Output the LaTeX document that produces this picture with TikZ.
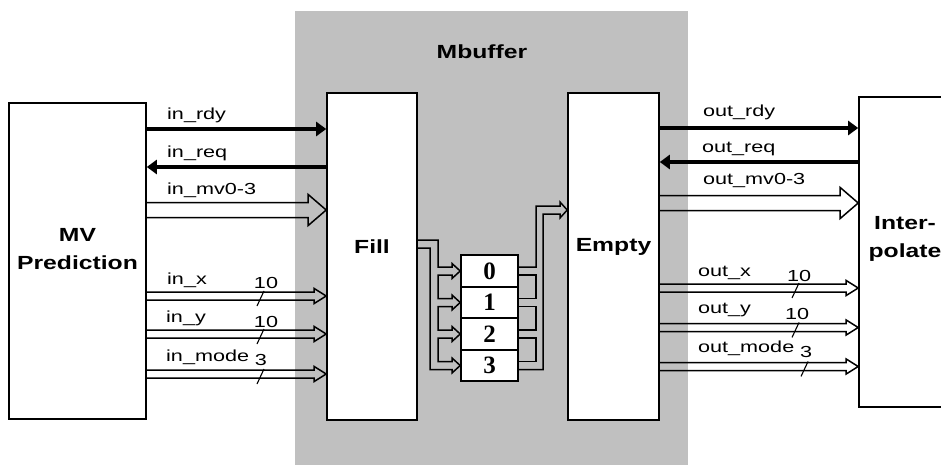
\documentclass[tikz,border=0pt]{standalone}
\usepackage{fontspec}
\setmainfont{Liberation Sans}
\newfontfamily\lblfont{Liberation Sans}[FakeStretch=1.35]
\newfontfamily\ttlfont{Liberation Sans}[FakeStretch=1.3]
\newfontfamily\numfont{Liberation Serif}
\usepackage{tikz}
\usetikzlibrary{positioning, arrows.meta, calc}
\definecolor{mbufgray}{RGB}{192,192,192}

\begin{document}
\begin{tikzpicture}[x=1pt, y=-1pt]
	\tikzset{
		blk/.style={draw, line width=1.6pt, fill=white, inner sep=0pt},
		ttl/.style={font=\ttlfont\bfseries\fontsize{19}{28}\selectfont, align=center, inner sep=0pt},
		lbl/.style={font=\lblfont\fontsize{16}{18}\selectfont, anchor=west, inner sep=0pt},
		num/.style={font=\lblfont\fontsize{16}{18}\selectfont, inner sep=0pt},
		cell/.style={draw, line width=1.6pt, fill=white, minimum width=57pt, minimum height=31.5pt, inner sep=0pt, font=\numfont\bfseries\fontsize{25}{25}\selectfont},
		sig/.style={line width=3.2pt, -{Triangle[length=10pt,width=14pt]}},
		busline/.style={line width=1.5pt},
		bus/.style n args={3}{busline, to path={let \p1=(\tikztostart), \p2=(\tikztotarget) in
			(\x1,\y1+#1) -- (\x2-#3,\y1+#1) -- (\x2-#3,\y1+#2) -- (\x2,\y1) -- (\x2-#3,\y1-#2) -- (\x2-#3,\y1-#1) -- (\x1,\y1-#1)}},
		smallbus/.style={bus={4pt}{7.5pt}{12pt}},
		widebus/.style={bus={7.5pt}{15.5pt}{18pt}},
		tick/.style={line width=1.1pt}
	}
	\useasboundingbox (0,0) rectangle (941,465);
	\clip (0,0) rectangle (941,465);
	
	% 缓冲区背景
	\node[fill=mbufgray, minimum width=393pt, minimum height=454pt, inner sep=0pt] (mbuf) at (491.5,238) {};
	\node[ttl] (mbuftxt) at (482,52) {Mbuffer};
	
	% 模块
	\node[blk, minimum width=137pt, minimum height=316pt] (mvpred) at (77.5,261) {};
	\node[blk, minimum width=90pt, minimum height=327pt] (fillblk) at (372,256.5) {};
	\node[blk, minimum width=91pt, minimum height=327pt] (emptyblk) at (613.5,256.5) {};
	\node[blk, minimum width=92pt, minimum height=310pt] (interp) at (905,252) {};
	\node[ttl] (mvtxt) at (77.5,249) {MV\\Prediction};
	\node[ttl] (filltxt) at (372,247) {Fill};
	\node[ttl] (emptytxt) at (613.5,247) {Empty};
	\node[ttl] (interptxt) at (905,238.5) {Inter-\\polate};
	
	\foreach \i in {0,...,3}
		\node[cell] (c\i) at (489.5,271+31.5*\i) {\i};
	
	% 握手信号
	\draw[sig] (mvpred.east |- 0,129) -- (fillblk.west |- 0,129);
	\draw[sig] (fillblk.west |- 0,167) -- (mvpred.east |- 0,167);
	\draw[sig] (emptyblk.east |- 0,128) -- (interp.west |- 0,128);
	\draw[sig] (interp.west |- 0,162) -- (emptyblk.east |- 0,162);
	
	% 数据总线
	\draw[widebus] (mvpred.east |- 0,210) to (fillblk.west |- 0,210);
	\draw[widebus] (emptyblk.east |- 0,203) to (interp.west |- 0,203);
	\foreach \bpos in {296,334,374} {
		\draw[smallbus] (mvpred.east |- 0,\bpos) to (fillblk.west |- 0,\bpos);
		\draw[tick] (257,\bpos+10) -- (264,\bpos-5);
	}
	\foreach \bpos/\tpos in {288/792, 327.5/792, 366.5/801} {
		\draw[smallbus] (emptyblk.east |- 0,\bpos) to (interp.west |- 0,\bpos);
		\draw[tick] (\tpos,\bpos+10) -- (\tpos+7,\bpos-5);
	}
	
	% 标签
	\node[lbl] (inrdy) at (167,115) {in\_rdy};
	\node[lbl] (inreq) at (167,153) {in\_req};
	\node[lbl] (inmv) at (167,190) {in\_mv0-3};
	\node[lbl] (inx) at (167,280) {in\_x};
	\node[lbl] (iny) at (166,318) {in\_y};
	\node[lbl] (inmode) at (166,357) {in\_mode};
	\node[lbl] (outrdy) at (703,112) {out\_rdy};
	\node[lbl] (outreq) at (702,149) {out\_req};
	\node[lbl] (outmv) at (703,181) {out\_mv0-3};
	\node[lbl] (outx) at (698,273) {out\_x};
	\node[lbl] (outy) at (698,310) {out\_y};
	\node[lbl] (outmode) at (698,348) {out\_mode};
	\node[num] (inxw) at (266,283) {10};
	\node[num] (inyw) at (266,321.5) {10};
	\node[num] (inmodew) at (261,360) {3};
	\node[num] (outxw) at (799,276) {10};
	\node[num] (outyw) at (797,313.5) {10};
	\node[num] (outmodew) at (806,351.5) {3};
	
	% 写入缓冲
	\draw[busline] (fillblk.east |- 0,240) -| (438,267)
		\foreach \i in {0,1,2} {
			-- (452,267+31.5*\i) -- (452,263.5+31.5*\i) -- (c\i.west)
			-- (452,278.5+31.5*\i) -- (452,275+31.5*\i) -- (438,275+31.5*\i) -- (438,298.5+31.5*\i)
		}
		-- (452,361.5) -- (452,358) -- (c3.west) -- (452,373) -- (452,369.5) -- (430,369.5) |- (fillblk.east |- 0,248);
	
	% 读出缓冲
	\draw[busline] (c0.east |- 0,267) -| (536,206) -- (560,206) -- (560,202) -- (emptyblk.west |- 0,210)
		-- (560,218) -- (560,214) -- (543,214) |- (c3.east |- 0,369.5);
	\foreach \i in {0,1,2} {
		\pgfmathsetmacro\ya{275+31.5*\i}
		\pgfmathsetmacro\yb{298.5+31.5*\i}
		\draw[busline] (c\i.east |- 0,\ya) -| (536,\yb) -- (c\i.east |- 0,\yb);
	}
\end{tikzpicture}
\end{document}
